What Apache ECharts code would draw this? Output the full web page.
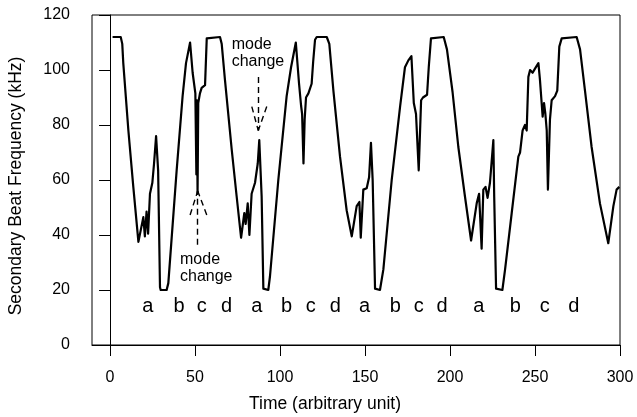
<!DOCTYPE html>
<html>
<head>
<meta charset="utf-8">
<script src="https://cdn.jsdelivr.net/npm/echarts@6/dist/echarts.min.js"></script>
<style>
  html, body { margin: 0; padding: 0; background: #fff; }
  #chart { width: 637px; height: 417px; }
</style>
</head>
<body>
<div id="chart"></div>
<script>
// beat frequency trace, [time, kHz]
const beatTrace = [
  [1.5, 112], [6.3, 112], [7.2, 109.5], [7.8, 102.5], [10.8, 78], [13.7, 57.5], [16.7, 37.5],
  [19.6, 46.5], [20.5, 39.5], [21.5, 48.5], [22.4, 40.5], [23.5, 55], [24.9, 59], [25.9, 66],
  [27.1, 76], [28.3, 63.5], [29.4, 21], [29.8, 20], [33.3, 20], [34.3, 22.5], [39.2, 63.5],
  [42.7, 90.5], [44.7, 102.5], [47.1, 110], [48.6, 99], [50.2, 91.5], [50.8, 62], [51.1, 89],
  [51.5, 55], [51.9, 88], [52.9, 91.5], [53.9, 93.5], [55.9, 94.5], [56.9, 111.5], [57.8, 112],
  [64.7, 112], [65.7, 109.5], [67.6, 96.5], [71.6, 71], [74.5, 54], [77.1, 39], [79.0, 48],
  [79.8, 44], [81.0, 51.5], [82.0, 40], [83.3, 55], [85.3, 59], [86.9, 66], [87.8, 74.5],
  [89.2, 54], [90.2, 20.5], [90.6, 20], [93.1, 20], [94.1, 25], [99.0, 60], [103.9, 90.5],
  [106.5, 101], [109.3, 110], [111.2, 95], [112.4, 87], [113.0, 84], [113.8, 66], [114.5, 82],
  [115.3, 90], [116.7, 91.5], [118.6, 95], [119.5, 103], [120.6, 111], [121.6, 112], [127.5, 112],
  [129.0, 109.5], [131.4, 92.5], [135.3, 68.5], [139.2, 49], [142.2, 39.5], [145.1, 50.5],
  [146.7, 52], [147.5, 39], [149.0, 56.5], [151.0, 57], [152.4, 61], [153.5, 73.5], [154.5, 60],
  [155.9, 20.5], [156.4, 20], [158.8, 20], [160.8, 27.5], [165.7, 60], [170.6, 86.5],
  [173.5, 101], [175.5, 103.5], [177.3, 105], [178.7, 88], [180.0, 84], [181.6, 63.5],
  [183.0, 89], [184.1, 90], [186.5, 91], [187.5, 101], [188.8, 111.5], [189.5, 112], [196.3, 112],
  [198.2, 107.5], [201.5, 92], [204.9, 72], [208.8, 54], [212.4, 38], [215.7, 51.5], [217.1, 55],
  [218.6, 35], [219.6, 56.5], [220.9, 57.5], [222.1, 53.5], [223.5, 59], [225.5, 74.5],
  [226.0, 54], [227.1, 20.5], [227.6, 20], [230.8, 20], [232.4, 27.5], [236.3, 48], [240.2, 68.5],
  [241.2, 70], [242.7, 78], [244.1, 80], [245.1, 78], [246.1, 97.5], [247.1, 100], [248.6, 99],
  [250.0, 100.5], [252.0, 102.5], [252.9, 96.5], [254.5, 83], [255.3, 88], [256.1, 84],
  [256.9, 78], [257.6, 56.5], [258.8, 82], [259.8, 89], [261.8, 90.5], [263.1, 92.5],
  [264.3, 108.5], [265.7, 111.5], [266.5, 112], [274.5, 112], [276.5, 107.5], [279.4, 92.5],
  [283.3, 72], [288.2, 51.5], [293.1, 37], [296.1, 50.5], [298.0, 56.5], [299.6, 57.5]
];

// phase letters under the trace
const phaseLetters = ['a', 'b', 'c', 'd', 'a', 'b', 'c', 'd', 'a', 'b', 'c', 'd', 'a', 'b', 'c', 'd'];
const phaseX = [22.2, 40.6, 53.9, 68.6, 86.3, 103.9, 118.1, 132.5, 149.8, 167.8, 181.6, 195.3, 216.9, 238.4, 255.7, 272.8];
const phaseY = 14;

const xTicks = [0, 50, 100, 150, 200, 250, 300];

// "mode change" arrows: shaft start, tip, two wings
const arrowTop = { from: [87.2, 97.5], tip: [87.2, 78], wingL: [83.4, 86.7], wingR: [92.2, 86.7] };
const arrowBottom = { from: [51.6, 36.5], tip: [51.6, 56], wingL: [47.1, 47.3], wingR: [56.9, 47.3] };

const FONT = 'Liberation Sans, Arial, Helvetica, sans-serif';

function arrowLines(a) {
  return [
    [{ coord: a.from }, { coord: a.tip }],
    [{ coord: a.wingL }, { coord: a.tip }],
    [{ coord: a.wingR }, { coord: a.tip }]
  ];
}

const chart = echarts.init(document.getElementById('chart'), null, { renderer: 'canvas' });

const option = {
  animation: false,
  backgroundColor: '#fff',
  textStyle: { fontFamily: FONT, color: '#000' },
  grid: {
    left: 92,
    right: 17,
    top: 15,
    bottom: 72,
    containLabel: false,
    outerBoundsMode: 'none',
    show: true,
    borderColor: '#000',
    borderWidth: 1,
    backgroundColor: 'transparent'
  },
  xAxis: {
    type: 'value',
    min: -10.6,
    max: 300,
    name: 'Time (arbitrary unit)',
    nameLocation: 'middle',
    nameGap: 50,
    nameTextStyle: { fontSize: 17.5, color: '#000', fontFamily: FONT, padding: [0, 62, 0, 0] },
    axisLine: { show: true, lineStyle: { color: '#000', width: 1 } },
    axisTick: { show: true, inside: false, length: 11, customValues: xTicks, lineStyle: { color: '#000', width: 1 } },
    axisLabel: { customValues: xTicks, margin: 25, fontSize: 16, color: '#000', fontFamily: FONT },
    splitLine: { show: false }
  },
  yAxis: {
    type: 'value',
    min: 0,
    max: 120,
    interval: 20,
    name: 'Secondary Beat Frequency (kHz)',
    nameLocation: 'middle',
    nameGap: 67,
    nameRotate: 90,
    nameTextStyle: { fontSize: 17.5, color: '#000', fontFamily: FONT, padding: [0, 12, 0, 0] },
    axisLine: { show: true, lineStyle: { color: '#000', width: 1 } },
    axisTick: { show: true, inside: false, length: 11, lineStyle: { color: '#000', width: 1 } },
    axisLabel: { margin: 22, fontSize: 16, color: '#000', fontFamily: FONT },
    splitLine: { show: false }
  },
  series: [
    {
      name: 'beat',
      type: 'line',
      data: beatTrace,
      showSymbol: false,
      symbol: 'none',
      lineStyle: { color: '#000', width: 2.2, join: 'round' },
      markLine: {
        silent: true,
        symbol: 'none',
        label: { show: false },
        lineStyle: { color: '#000', width: 1.4, type: [6, 4] },
        data: arrowLines(arrowTop).concat(arrowLines(arrowBottom))
      }
    },
    {
      name: 'phase',
      type: 'scatter',
      symbolSize: 1,
      itemStyle: { color: '#fff', opacity: 1 },
      data: phaseX.map((x, i) => [x, phaseY, phaseLetters[i]]),
      label: {
        show: true,
        position: 'inside',
        formatter: p => p.value[2],
        fontSize: 20,
        color: '#000',
        opacity: 1,
        fontFamily: FONT
      }
    }
  ],
  graphic: [
    {
      type: 'text',
      left: 231.7,
      top: 36,
      style: { text: 'mode\nchange', font: '16px ' + FONT, fill: '#000', lineHeight: 17, textAlign: 'left' }
    },
    {
      type: 'text',
      left: 180,
      top: 251,
      style: { text: 'mode\nchange', font: '16px ' + FONT, fill: '#000', lineHeight: 17, textAlign: 'left' }
    }
  ]
};

chart.setOption(option);
</script>
</body>
</html>
